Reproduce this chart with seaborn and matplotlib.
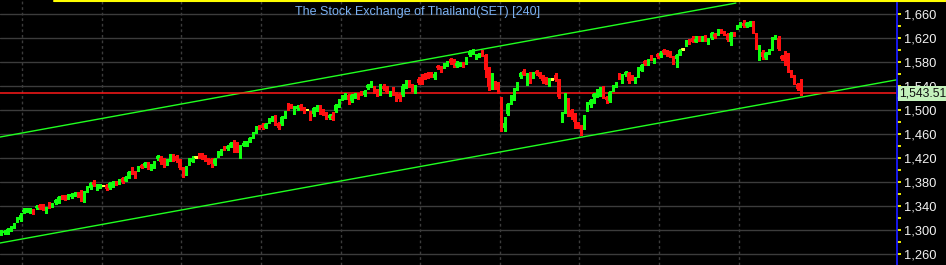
import matplotlib
matplotlib.use("Agg")
import matplotlib.pyplot as plt
import matplotlib.transforms as mtransforms
from matplotlib.lines import Line2D
from matplotlib.ticker import FixedLocator, FuncFormatter
import seaborn as sns
import numpy as np
import pandas as pd

# ---------------- data ----------------
title = "The Stock Exchange of Thailand(SET) [240]"

opens = [1293, 1295, 1295, 1301, 1305, 1315, 1317, 1330, 1331, 1330, 1333, 1337, 1341, 1341, 1332, 1342, 1339, 1345, 1347, 1357,
         1356, 1353, 1355, 1357, 1361, 1364, 1351, 1364, 1370, 1380, 1368, 1371, 1374, 1375, 1370, 1373, 1379, 1377, 1386, 1382,
         1388, 1402, 1397, 1400, 1408, 1407, 1412, 1402, 1405, 1418, 1420, 1418, 1410, 1417, 1425, 1424, 1417, 1404, 1392, 1410,
         1414, 1422, 1427, 1426, 1423, 1419, 1418, 1410, 1423, 1426, 1439, 1435, 1440, 1445, 1440, 1431, 1441, 1442, 1448, 1455,
         1463, 1474, 1476, 1471, 1480, 1483, 1487, 1478, 1477, 1488, 1508, 1508, 1496, 1502, 1508, 1503, 1501, 1497, 1493, 1500,
         1506, 1500, 1495, 1487, 1490, 1498, 1506, 1518, 1520, 1525, 1515, 1522, 1525, 1530, 1525, 1537, 1540, 1538, 1532, 1528,
         1540, 1538, 1525, 1537, 1528, 1527, 1525, 1538, 1548, 1541, 1532, 1552, 1553, 1560, 1562, 1561, 1553, 1573, 1572, 1572,
         1575, 1585, 1582, 1574, 1575, 1578, 1578, 1592, 1594, 1587, 1589, 1598, 1592, 1570, 1537, 1547, 1545, 1520, 1470, 1494,
         1512, 1525, 1534, 1555, 1565, 1553, 1560, 1555, 1565, 1562, 1556, 1553, 1545, 1552, 1558, 1550, 1482, 1497, 1518, 1500,
         1493, 1478, 1474, 1470, 1500, 1508, 1522, 1524, 1526, 1535, 1522, 1515, 1534, 1539, 1560, 1552, 1558, 1562, 1556, 1547,
         1557, 1566, 1582, 1577, 1590, 1580, 1593, 1590, 1600, 1598, 1597, 1588, 1585, 1593, 1602, 1608, 1617, 1620, 1614, 1622,
         1617, 1622, 1613, 1620, 1627, 1627, 1634, 1630, 1627, 1613, 1628, 1636, 1640, 1646, 1640, 1642, 1647, 1623, 1590, 1597,
         1587, 1595, 1602, 1620, 1620, 1590, 1585, 1588, 1565, 1557, 1543, 1544]

closes = [1298, 1298, 1301, 1305, 1310, 1320, 1325, 1334, 1334, 1335, 1328, 1340, 1337, 1335, 1334, 1338, 1343, 1350, 1355, 1353,
          1352, 1358, 1360, 1361, 1357, 1351, 1363, 1368, 1378, 1375, 1375, 1374, 1374, 1368, 1378, 1380, 1376, 1383, 1380, 1388,
          1397, 1395, 1388, 1405, 1404, 1412, 1403, 1407, 1414, 1423, 1413, 1408, 1415, 1425, 1418, 1416, 1404, 1392, 1405, 1418,
          1421, 1422, 1422, 1421, 1417, 1414, 1410, 1418, 1430, 1433, 1435, 1440, 1445, 1432, 1432, 1440, 1446, 1447, 1454, 1461,
          1472, 1469, 1470, 1477, 1485, 1488, 1478, 1470, 1488, 1497, 1502, 1504, 1505, 1507, 1503, 1497, 1501, 1490, 1503, 1506,
          1496, 1494, 1487, 1492, 1485, 1508, 1513, 1524, 1527, 1517, 1525, 1527, 1520, 1527, 1532, 1542, 1547, 1530, 1525, 1540,
          1535, 1530, 1530, 1528, 1518, 1518, 1541, 1548, 1540, 1535, 1540, 1545, 1545, 1553, 1555, 1556, 1561, 1570, 1564, 1577,
          1580, 1578, 1575, 1578, 1579, 1574, 1587, 1598, 1600, 1592, 1593, 1592, 1567, 1538, 1545, 1538, 1530, 1468, 1478, 1510,
          1524, 1532, 1545, 1562, 1559, 1560, 1548, 1562, 1560, 1555, 1548, 1546, 1552, 1552, 1550, 1522, 1495, 1527, 1493, 1488,
          1480, 1472, 1470, 1490, 1512, 1517, 1527, 1526, 1530, 1522, 1517, 1530, 1540, 1545, 1554, 1558, 1563, 1548, 1552, 1553,
          1570, 1575, 1577, 1584, 1584, 1585, 1588, 1596, 1595, 1592, 1589, 1578, 1592, 1600, 1602, 1615, 1612, 1614, 1619, 1617,
          1621, 1616, 1618, 1628, 1622, 1632, 1629, 1626, 1617, 1628, 1624, 1640, 1645, 1640, 1646, 1647, 1630, 1605, 1607, 1588,
          1595, 1600, 1620, 1624, 1602, 1585, 1578, 1565, 1558, 1545, 1535, 1538]

highs = [1300, 1300, 1303, 1307, 1312, 1322, 1328, 1336, 1336, 1337, 1335, 1342, 1344, 1343, 1338, 1346, 1345, 1352, 1357, 1359,
         1358, 1360, 1362, 1363, 1363, 1366, 1365, 1373, 1380, 1383, 1377, 1376, 1375, 1377, 1380, 1382, 1381, 1385, 1388, 1390,
         1399, 1405, 1399, 1407, 1410, 1414, 1414, 1410, 1416, 1425, 1424, 1420, 1418, 1427, 1427, 1426, 1419, 1405, 1407, 1420,
         1423, 1423, 1429, 1429, 1425, 1421, 1420, 1420, 1432, 1435, 1441, 1442, 1447, 1450, 1447, 1442, 1448, 1449, 1456, 1463,
         1474, 1476, 1478, 1479, 1487, 1490, 1492, 1480, 1490, 1499, 1512, 1510, 1507, 1509, 1511, 1505, 1502, 1499, 1505, 1508,
         1508, 1502, 1497, 1494, 1497, 1510, 1518, 1526, 1529, 1527, 1527, 1529, 1528, 1532, 1534, 1544, 1549, 1541, 1535, 1544,
         1543, 1540, 1532, 1539, 1530, 1529, 1543, 1550, 1550, 1543, 1542, 1555, 1560, 1562, 1564, 1563, 1563, 1575, 1574, 1579,
         1582, 1587, 1585, 1582, 1581, 1580, 1589, 1600, 1602, 1594, 1595, 1601, 1594, 1572, 1562, 1549, 1547, 1522, 1488, 1512,
         1526, 1537, 1547, 1564, 1568, 1562, 1563, 1564, 1567, 1564, 1558, 1555, 1554, 1553, 1562, 1552, 1497, 1529, 1520, 1502,
         1495, 1480, 1476, 1492, 1514, 1519, 1529, 1535, 1538, 1540, 1524, 1532, 1542, 1547, 1562, 1560, 1565, 1564, 1558, 1555,
         1572, 1577, 1584, 1586, 1592, 1587, 1595, 1598, 1602, 1600, 1599, 1590, 1594, 1602, 1603, 1617, 1619, 1623, 1624, 1624,
         1623, 1625, 1620, 1630, 1629, 1636, 1636, 1632, 1629, 1630, 1630, 1642, 1648, 1650, 1648, 1649, 1649, 1628, 1609, 1600,
         1597, 1602, 1622, 1626, 1624, 1592, 1598, 1596, 1567, 1559, 1545, 1552]

lows = [1291, 1293, 1293, 1299, 1304, 1313, 1315, 1328, 1330, 1328, 1326, 1335, 1335, 1333, 1329, 1336, 1338, 1344, 1345, 1352,
        1350, 1352, 1354, 1356, 1355, 1349, 1347, 1363, 1369, 1374, 1366, 1370, 1373, 1367, 1369, 1372, 1375, 1376, 1379, 1381,
        1387, 1393, 1386, 1399, 1403, 1406, 1401, 1400, 1404, 1417, 1411, 1406, 1409, 1416, 1416, 1414, 1402, 1389, 1391, 1409,
        1413, 1421, 1420, 1419, 1415, 1410, 1406, 1409, 1422, 1425, 1434, 1434, 1439, 1430, 1430, 1421, 1440, 1440, 1447, 1454,
        1462, 1468, 1468, 1470, 1479, 1482, 1476, 1468, 1476, 1487, 1500, 1503, 1494, 1501, 1501, 1495, 1500, 1483, 1491, 1499,
        1494, 1492, 1486, 1485, 1484, 1497, 1505, 1517, 1519, 1510, 1513, 1521, 1519, 1526, 1524, 1536, 1539, 1528, 1523, 1526,
        1533, 1528, 1523, 1526, 1516, 1516, 1523, 1537, 1538, 1532, 1528, 1543, 1543, 1552, 1554, 1555, 1552, 1569, 1563, 1571,
        1574, 1577, 1572, 1572, 1573, 1572, 1577, 1591, 1593, 1586, 1588, 1591, 1555, 1533, 1535, 1536, 1528, 1465, 1465, 1492,
        1510, 1517, 1533, 1554, 1558, 1542, 1546, 1554, 1559, 1553, 1546, 1544, 1540, 1551, 1549, 1520, 1480, 1495, 1491, 1486,
        1471, 1470, 1458, 1468, 1498, 1506, 1512, 1522, 1524, 1520, 1512, 1513, 1532, 1538, 1552, 1545, 1557, 1546, 1550, 1546,
        1556, 1565, 1576, 1575, 1583, 1578, 1587, 1589, 1594, 1591, 1588, 1577, 1572, 1592, 1601, 1607, 1611, 1613, 1613, 1616,
        1616, 1615, 1610, 1619, 1621, 1626, 1628, 1625, 1615, 1608, 1623, 1635, 1639, 1639, 1639, 1641, 1629, 1602, 1583, 1585,
        1586, 1594, 1600, 1619, 1600, 1583, 1576, 1563, 1556, 1543, 1533, 1525]

# price axis
y_ticks = [1260, 1300, 1340, 1380, 1420, 1460, 1500, 1540, 1580, 1620, 1660]
y_minor = [1280, 1320, 1360, 1400, 1440, 1480, 1520, 1560, 1600, 1640]

# session separators (candle boundaries, every 25 candles)
separators = [6.5, 31.5, 56.5, 81.5, 106.5, 131.5, 156.5, 181.5, 206.5, 231.5]

# regression channel anchor points (candle index, price)
upper_idx = [-0.47, 230.6]
upper_val = [1455.2, 1678.8]
lower_idx = [-0.47, 281.2]
lower_val = [1278.3, 1550.8]

price_line = 1528.0
last_label = "1,543.51"

# ---------------- figure ----------------
sns.set_theme(style="dark")
plt.rcParams['font.family'] = ['Liberation Sans', 'DejaVu Sans']

W, H = 946, 265
fig = plt.figure(figsize=(W / 100, H / 100), dpi=100, facecolor="black")
ax = fig.add_axes([0, 0, 897 / W, 1])
ax.set_facecolor("black")

x = np.arange(len(opens))
o = np.array(opens, float)
c = np.array(closes, float)
h = np.array(highs, float)
l = np.array(lows, float)

GREEN = "#10ff10"
RED = "#ff1010"
YELLOW = "#ffff40"
cols = np.where(c > o, GREEN, np.where(c < o, RED, YELLOW))

# horizontal grid
for t in y_ticks:
    ax.axhline(t, color="#3c3c3c", lw=1.0, zorder=0.5)
# vertical separators
ax.vlines(separators, 1241, 1690, colors="#3c3c3c", lw=1.0, linestyles=(0, (2, 2)), zorder=0.5)

# channel lines via seaborn
ch = pd.DataFrame({
    "idx": upper_idx + lower_idx,
    "price": upper_val + lower_val,
    "line": ["upper", "upper", "lower", "lower"],
})
sns.lineplot(data=ch, x="idx", y="price", units="line", estimator=None,
             color="#20ff20", lw=1.0, ax=ax, zorder=2, legend=False)

# last price line
ax.axhline(price_line, color="#ff1a1a", lw=1.1, zorder=2.5)

# candles
ax.vlines(x, l, h, colors=cols, lw=1.0, zorder=3, antialiased=False)
body_lo = np.minimum(o, c)
body_h = np.abs(c - o)
mask = body_h > 0
ax.bar(x[mask], body_h[mask], bottom=body_lo[mask], width=0.88,
       color=cols[mask], linewidth=0, zorder=4, antialiased=False)
doji = ~mask
ax.hlines(o[doji], x[doji] - 0.5, x[doji] + 0.5, colors=YELLOW, lw=1.2, zorder=4)

# limits
ax.set_xlim(-0.47, 281.2)
ax.set_ylim(1241.6, 1683.9)
ax.set_xlabel("")
ax.set_ylabel("")

# axes styling
for s in ["top", "left", "bottom"]:
    ax.spines[s].set_visible(False)
ax.spines["right"].set_visible(True)
ax.spines["right"].set_color("#1a1aff")
ax.spines["right"].set_linewidth(1.3)
ax.spines["right"].set_bounds(1241.6, 1678.9)
ax.xaxis.set_visible(False)
ax.yaxis.tick_right()
ax.yaxis.set_major_locator(FixedLocator(y_ticks))
ax.yaxis.set_minor_locator(FixedLocator(y_minor))
ax.yaxis.set_major_formatter(FuncFormatter(lambda v, p: f"{v:,.0f}"))
ax.tick_params(axis="y", which="both", direction="out", length=3.2, width=1.3,
               color="#ffff00", labelcolor="#f2f2f2", labelsize=9.3, pad=1.5,
               left=False, right=True)
ax.grid(False)

# title
ax.text(418 / 897, 1 - 11.5 / 265, title, transform=ax.transAxes, ha="center",
        va="center", color="#7ab0f2", fontsize=9.0)

# last price tag
trans = mtransforms.blended_transform_factory(ax.transAxes, ax.transData)
ax.text(1.0025, price_line, last_label, transform=trans, ha="left", va="center",
        color="#101010", fontsize=8.7, clip_on=False, zorder=6,
        bbox=dict(boxstyle="square,pad=0.12", fc="#c4f2bc", ec="none"))

# top yellow border
fig.add_artist(Line2D([54 / W, 1], [1 - 0.8 / H, 1 - 0.8 / H], color="#ffff00",
                      lw=1.5, transform=fig.transFigure))

fig.savefig("out.png", dpi=100, facecolor="black")
